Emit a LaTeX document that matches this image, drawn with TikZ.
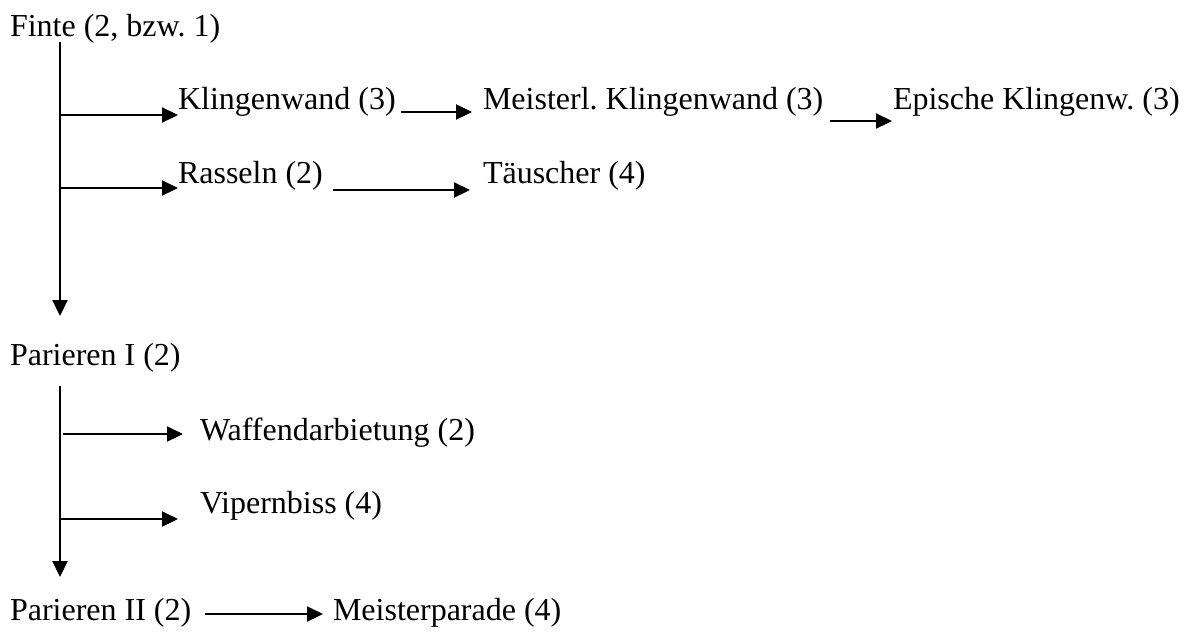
\documentclass[tikz,border=0pt]{standalone}
\usepackage{fontspec}
\setmainfont{Liberation Serif}
\usetikzlibrary{arrows.meta,calc}
\frenchspacing
\tikzset{
  lbl/.style={anchor=base west,inner sep=0pt,outer sep=0pt,font=\fontsize{32}{38}\selectfont},
  arr/.style={line width=2.2pt,-{Triangle[length=16pt,width=15pt]}}
}
\begin{document}
\begin{tikzpicture}[x=1pt,y=-1pt]
\useasboundingbox (0,0) rectangle (1185,633);
% nodes
\node[lbl] (finte) at (10,36) {Finte (2, bzw. 1)};
\node[lbl] (kw) at (178,109) {Klingenwand (3)};
\node[lbl] (mkw) at (483,109) {Meisterl. Klingenwand (3)};
\node[lbl] (ekw) at (893,109) {Epische Klingenw. (3)};
\node[lbl] (ras) at (178,183) {Rasseln (2)};
\node[lbl] (tau) at (483,183) {Täuscher (4)};
\node[lbl] (p1) at (10,365) {Parieren I (2)};
\node[lbl] (waf) at (200,440) {Waffendarbietung (2)};
\node[lbl] (vip) at (200,513) {Vipernbiss (4)};
\node[lbl] (p2) at (10,620) {Parieren II (2)};
\node[lbl] (mp) at (333,620) {Meisterparade (4)};
% trunk coordinates
\coordinate (t1a) at (60,42);
\coordinate (t1b) at (60,316);
\coordinate (j1) at (60,115);
\coordinate (j2) at (60,188);
\coordinate (t2a) at (60,386);
\coordinate (t2b) at (60,577);
\coordinate (j3) at (63,434);
\coordinate (j4) at (60,519);
% trunks
\draw[arr] (t1a) -- (t1b);
\draw[arr] (t2a) -- (t2b);
% branches
\draw[arr] (j1) -- (j1 -| kw.west);
\draw[arr] (j2) -- (j2 -| ras.west);
\draw[arr] (j3) -- ($(j3 -| waf.west)+(-17,0)$);
\draw[arr] (j4) -- ($(j4 -| vip.west)+(-22,0)$);
% chains
\draw[arr] ($(kw.base east)+(5,3)$) -- ($(mkw.base west)+(-11,3)$);
\draw[arr] ($(mkw.base east)+(7,12)$) -- ($(ekw.base west)+(-1,12)$);
\draw[arr] ($(ras.base east)+(10,7)$) -- ($(tau.base west)+(-13,7)$);
\draw[arr] ($(p2.base east)+(14,-6)$) -- ($(mp.base west)+(-10,-6)$);
\end{tikzpicture}
\end{document}
